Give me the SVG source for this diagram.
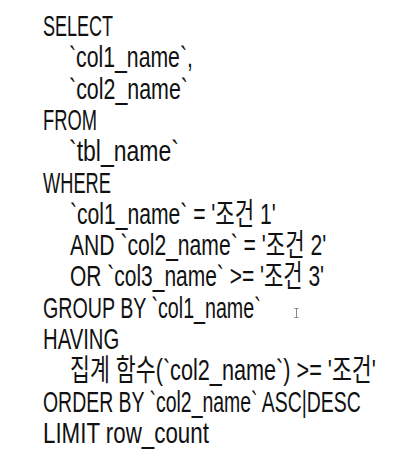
<svg xmlns="http://www.w3.org/2000/svg" width="416" height="468" viewBox="0 0 416 468">
<style>
.t{font-family:"Liberation Sans","Noto Sans CJK KR",sans-serif;font-size:29.5px;fill:#111;}
</style>
<rect width="416" height="468" fill="#fff"/>
<g id="sql">
<text class="t" transform="translate(43,36) scale(0.7,1)" textLength="100" lengthAdjust="spacingAndGlyphs">SELECT</text>
<text class="t" transform="translate(69,67.3) scale(0.7,1)" textLength="177" lengthAdjust="spacingAndGlyphs">`col1_name`,</text>
<text class="t" transform="translate(69,98.6) scale(0.7,1)" textLength="170" lengthAdjust="spacingAndGlyphs">`col2_name`</text>
<text class="t" transform="translate(43,130) scale(0.7,1)" textLength="77" lengthAdjust="spacingAndGlyphs">FROM</text>
<text class="t" transform="translate(69,161.2) scale(0.7,1)" textLength="157" lengthAdjust="spacingAndGlyphs">`tbl_name`</text>
<text class="t" transform="translate(43,192.5) scale(0.7,1)" textLength="97" lengthAdjust="spacingAndGlyphs">WHERE</text>
<text class="t" transform="translate(70,223.8) scale(0.7,1)" textLength="294" lengthAdjust="spacingAndGlyphs">`col1_name` = '조건 1'</text>
<text class="t" transform="translate(70,255.1) scale(0.7,1)" textLength="366" lengthAdjust="spacingAndGlyphs">AND `col2_name` = '조건 2'</text>
<text class="t" transform="translate(70,286.4) scale(0.7,1)" textLength="363" lengthAdjust="spacingAndGlyphs">OR `col3_name` &gt;= '조건 3'</text>
<text class="t" transform="translate(43,317.7) scale(0.7,1)" textLength="311" lengthAdjust="spacingAndGlyphs">GROUP BY `col1_name`</text>
<text class="t" transform="translate(43,349) scale(0.7,1)" textLength="109" lengthAdjust="spacingAndGlyphs">HAVING</text>
<text class="t" transform="translate(70,380.3) scale(0.7,1)" textLength="437" lengthAdjust="spacingAndGlyphs">집계 함수(`col2_name`) &gt;= '조건'</text>
<text class="t" transform="translate(43,411.6) scale(0.7,1)" textLength="454" lengthAdjust="spacingAndGlyphs">ORDER BY `col2_name` ASC|DESC</text>
<text class="t" transform="translate(43,442.9) scale(0.7,1)" textLength="237" lengthAdjust="spacingAndGlyphs">LIMIT row_count</text>
</g>
<g id="cursor" stroke="#888" stroke-width="1" fill="none">
<path d="M294.5 308.5h4M296.5 308.5v9M294.5 317.5h4"/>
</g>
</svg>
